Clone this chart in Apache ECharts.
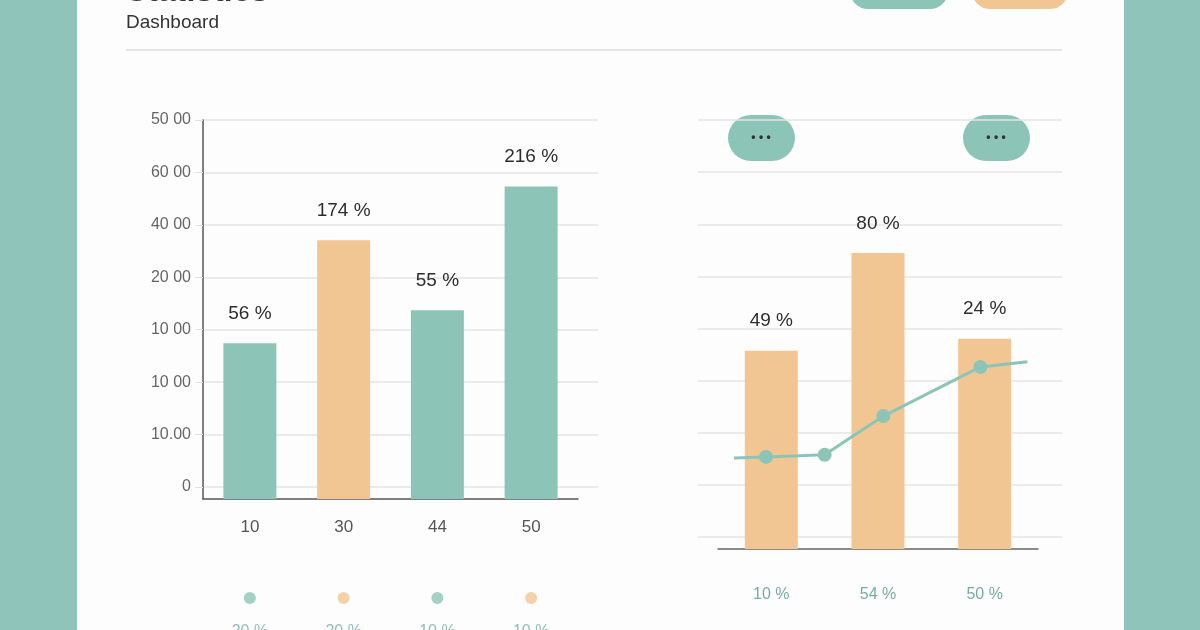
<!DOCTYPE html>
<html>
<head>
<meta charset="utf-8">
<script src="https://cdn.jsdelivr.net/npm/echarts@6/dist/echarts.min.js"></script>
<style>
  html, body { margin: 0; padding: 0; width: 1200px; height: 630px; overflow: hidden; background: #8ec4b9; }
  #card { position: absolute; left: 77px; top: 0; width: 1047px; height: 630px; background: #fdfdfd; }
  #chart { position: absolute; left: 0; top: 0; width: 1200px; height: 630px; }
</style>
</head>
<body>
<div id="card"></div>
<div id="chart"></div>
<script>
// left panel
const leftCats = ['10', '30', '44', '50'];
const leftBars = [2.98, 4.95, 3.61, 5.98];
const leftBarText = ['56 %', '174 %', '55 %', '216 %'];
const leftBarKind = ['teal', 'orange', 'teal', 'teal'];
const yTickLabels = ['0', '10.00', '10 00', '10 00', '20 00', '40 00', '60 00', '50 00'];
const dotKind = ['teal', 'orange', 'teal', 'orange'];
const dotText = ['20 %', '20 %', '10 %', '10 %'];

// right panel
const rightCats = ['10 %', '54 %', '50 %'];
const rightBars = [3.79, 5.66, 4.02];
const rightBarText = ['49 %', '80 %', '24 %'];
const lineX = [0.15, 0.45, 1.0, 1.55, 2.46, 2.9];
const lineY = [1.74, 1.76, 1.80, 2.54, 3.48, 3.58];

const TEAL = '#8cc5b7';
const ORANGE = '#f2c693';
const colorOf = (k) => (k === 'teal' ? TEAL : ORANGE);
const FONT = '"Liberation Sans", Arial, sans-serif';

const chart = echarts.init(document.getElementById('chart'), null, { renderer: 'canvas' });

// first and last points have no marker
const linePoints = lineX.map((x, i) => {
    const edge = i === 0 || i === lineX.length - 1;
    return edge ? { value: [x, lineY[i]], symbol: 'none' } : { value: [x, lineY[i]] };
});

const option = {
    backgroundColor: 'transparent',
    textStyle: { fontFamily: FONT },
    animation: false,
    grid: [
        { left: 203, right: 602, top: 120, bottom: 143 },
        { left: 203, right: 622, top: 120, bottom: 131 },
        { left: 203, right: 622, top: 590, height: 16 },
        { left: 698, right: 138, top: 120, bottom: 93 },
        { left: 718, right: 162, top: 120, bottom: 81 },
        { left: 718, right: 162, top: 120, bottom: 81 },
    ],
    xAxis: [
        { gridIndex: 0, type: 'category', data: leftCats, show: false },
        {
            gridIndex: 1, type: 'category', data: leftCats,
            axisLine: { lineStyle: { color: '#555', width: 1.5 } },
            axisTick: { show: false },
            axisLabel: { color: '#555', fontSize: 17, margin: 20 },
        },
        { gridIndex: 2, type: 'category', data: leftCats, show: false },
        { gridIndex: 3, type: 'category', data: rightCats, show: false },
        {
            gridIndex: 4, type: 'category', data: rightCats,
            axisLine: { lineStyle: { color: '#666', width: 1.5 } },
            axisTick: { show: false },
            axisLabel: { color: '#7aaba0', fontSize: 16, margin: 38 },
        },
        { gridIndex: 5, type: 'value', min: 0, max: 3, show: false },
    ],
    yAxis: [
        {
            gridIndex: 0, type: 'value', min: 0, max: 7, interval: 1,
            axisLine: { show: false },
            axisTick: { show: true, length: 8, lineStyle: { color: '#e2e2e2' } },
            axisLabel: {
                color: '#666', fontSize: 16, margin: 12,
                formatter: (v) => yTickLabels[Math.round(v)],
            },
            splitLine: { lineStyle: { color: '#e4e4e4', width: 1.5 } },
        },
        {
            gridIndex: 1, type: 'value', min: 0, max: 7.25,
            axisLine: { show: true, lineStyle: { color: '#555', width: 1.5 } },
            axisTick: { show: false }, axisLabel: { show: false }, splitLine: { show: false },
        },
        { gridIndex: 2, type: 'value', min: 0, max: 1, show: false },
        {
            gridIndex: 3, type: 'value', min: 0, max: 8, interval: 1,
            axisLine: { show: false }, axisTick: { show: false }, axisLabel: { show: false },
            splitLine: { lineStyle: { color: '#e4e4e4', width: 1.5 } },
        },
        { gridIndex: 4, type: 'value', min: 0, max: 8.2, show: false },
        { gridIndex: 5, type: 'value', min: 0, max: 8.2, show: false },
    ],
    series: [
        {
            type: 'bar', xAxisIndex: 1, yAxisIndex: 1, barWidth: 53,
            data: leftBars.map((v, i) => ({ value: v, itemStyle: { color: colorOf(leftBarKind[i]) } })),
            label: {
                show: true, position: 'top', distance: 20, color: '#2d2d2d', fontSize: 19,
                formatter: (p) => leftBarText[p.dataIndex],
            },
        },
        {
            type: 'scatter', xAxisIndex: 2, yAxisIndex: 2, symbolSize: 12,
            data: dotKind.map((k) => ({ value: 0.5, itemStyle: { color: colorOf(k) } })),
            label: {
                show: true, position: 'bottom', distance: 20, color: '#7aaba0', fontSize: 16,
                formatter: (p) => dotText[p.dataIndex],
            },
        },
        {
            type: 'bar', xAxisIndex: 4, yAxisIndex: 4, barWidth: 53,
            data: rightBars,
            itemStyle: { color: ORANGE },
            label: {
                show: true, position: 'top', distance: 20, color: '#2d2d2d', fontSize: 19,
                formatter: (p) => rightBarText[p.dataIndex],
            },
        },
        {
            type: 'line', xAxisIndex: 5, yAxisIndex: 5,
            data: linePoints,
            symbol: 'circle', symbolSize: 14,
            lineStyle: { color: TEAL, width: 3 },
            itemStyle: { color: TEAL },
            z: 5,
        },
    ],
    graphic: [
        {
            type: 'text', left: 126, top: -24,
            style: { text: 'Statistics', fill: '#333', font: 'bold 32px ' + FONT },
        },
        {
            type: 'text', left: 126, top: 13,
            style: { text: 'Dashboard', fill: '#333', font: '19px ' + FONT },
        },
        {
            type: 'line', shape: { x1: 126, y1: 50, x2: 1062, y2: 50 },
            style: { stroke: '#dddddd', lineWidth: 1.5 },
        },
        {
            type: 'rect', shape: { x: 850, y: -30, width: 98, height: 39, r: 18 },
            style: { fill: TEAL },
        },
        {
            type: 'rect', shape: { x: 972, y: -30, width: 96, height: 39, r: 18 },
            style: { fill: ORANGE },
        },
        {
            type: 'rect', shape: { x: 728, y: 115, width: 67, height: 46, r: 23 },
            style: { fill: TEAL },
        },
        {
            type: 'text', x: 761, y: 138,
            style: { text: '• • •', fill: '#333', font: 'bold 12px ' + FONT, align: 'center', verticalAlign: 'middle' },
        },
        {
            type: 'rect', shape: { x: 963, y: 115, width: 67, height: 46, r: 23 },
            style: { fill: TEAL },
        },
        {
            type: 'text', x: 996, y: 138,
            style: { text: '• • •', fill: '#333', font: 'bold 12px ' + FONT, align: 'center', verticalAlign: 'middle' },
        },
    ],
};

chart.setOption(option);
</script>
</body>
</html>
